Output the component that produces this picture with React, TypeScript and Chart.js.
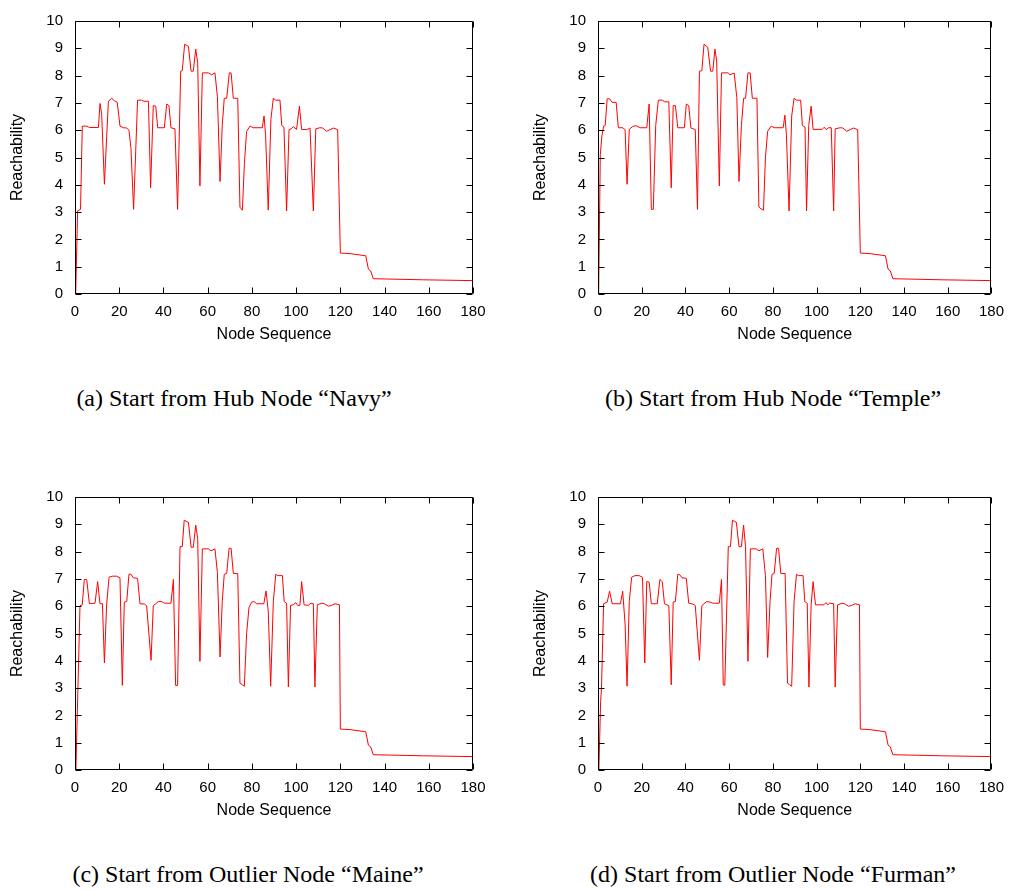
import React, { useEffect, useRef } from "react";
import { Chart, registerables } from "chart.js";
Chart.register(...registerables);

const xTickValues = [0, 20, 40, 60, 80, 100, 120, 140, 160, 180];
const yTickValues = [0, 1, 2, 3, 4, 5, 6, 7, 8, 9, 10];

// shared tail (after node ~120)
const tailX = [120, 124.4, 131.5, 132.7, 133.7, 134.9, 157.5, 180];
const tailY = [1.5, 1.48, 1.4, 0.91, 0.85, 0.56, 0.52, 0.49];

const navyX = [0.3, 1.2, 2.5, 3.3, 5.3, 6.5, 10.6, 11.3, 12.06, 13.3, 15.1, 16.6, 17.8, 19.1, 20.35, 21.9, 23.4, 24.4, 25.3, 26.5, 28.3, 30.1, 31.2, 33.2, 34.2, 35.4, 36.5, 37.4, 40.4, 41.5, 42.5, 43.4, 45.2, 46.4, 47.8, 48.5, 49.6, 51.3, 52.5, 53.5, 54.6, 55.5, 56.5, 57.6, 60.3, 61.8, 63.3, 64.4, 65.6, 66.6, 67.5, 68.6, 69.8, 70.6, 71.6, 73.6, 74.6, 75.7, 76.6, 77.6, 79.2, 80.6, 84.7, 85.5, 86.2, 87.4, 88.6, 89.7, 90.8, 92.7, 93.5, 94.5, 95.7, 96.8, 97.7, 98.7, 100.2, 101.5, 102.5, 104.8, 106.3, 107.8, 108.9, 110.8, 112, 113.8, 115.3, 116.8, 118.8];
const navyY = [0, 3.05, 3.1, 6.15, 6.15, 6.1, 6.1, 6.98, 6.6, 4.02, 7.06, 7.17, 7.08, 7.02, 6.15, 6.09, 6.08, 6.0, 5.34, 3.1, 7.1, 7.1, 7.06, 7.06, 3.89, 6.9, 6.88, 6.09, 6.09, 6.96, 6.9, 6.09, 6.05, 3.1, 8.16, 8.18, 9.15, 9.07, 8.16, 8.16, 8.97, 8.47, 3.96, 8.1, 8.1, 8.03, 8.1, 7.23, 4.12, 6.17, 7.17, 7.17, 8.1, 8.1, 7.17, 7.17, 3.18, 3.07, 4.75, 5.96, 6.15, 6.09, 6.09, 6.52, 5.82, 3.07, 6.4, 7.17, 7.1, 7.1, 6.17, 6.11, 3.04, 6.02, 6.05, 6.13, 6.03, 6.88, 6.03, 6.02, 6.08, 3.04, 6.05, 6.09, 6.08, 5.96, 6.02, 6.08, 6.02];

const templeX = [0.3, 1.05, 1.8, 2.56, 3.3, 4.2, 5.3, 6.5, 8.3, 9.3, 11.3, 12.4, 13.3, 14.3, 15.8, 17.3, 19.3, 22.3, 23.4, 24.4, 25.3, 26.4, 27.6, 29.4, 30.5, 32.4, 33.5, 34.4, 35.4, 36.5, 39.5, 40.4, 41.5, 42.5, 44.5, 45.5, 46.4, 47.5, 48.5, 50.2, 51.5, 52.5, 53.5, 54.3, 55.5, 56.5, 59.6, 60.3, 62.3, 63.5, 64.5, 65.6, 66.6, 67.5, 68.6, 69.6, 70.6, 72.7, 73.6, 74.6, 75.7, 76.6, 77.6, 79.2, 80.6, 84.7, 85.5, 86.2, 87.4, 88.6, 89.7, 90.8, 92.7, 93.5, 94.7, 95.4, 96.4, 97.5, 98.4, 100.2, 102.5, 103.5, 104.4, 105.5, 106.7, 107.8, 108.5, 110.8, 112, 113.8, 115.3, 116.8, 118.8];
const templeY = [0, 5.1, 5.8, 6.15, 6.17, 7.15, 7.15, 7.02, 7.02, 6.09, 6.09, 6.02, 4.02, 6.03, 6.13, 6.17, 6.09, 6.09, 6.96, 3.1, 3.1, 6.17, 7.1, 7.1, 7.04, 7.04, 3.89, 6.9, 6.9, 6.09, 6.09, 6.96, 6.9, 6.08, 6.02, 3.1, 8.16, 8.18, 9.15, 9.04, 8.16, 8.16, 8.97, 8.53, 3.96, 8.1, 8.1, 8.03, 8.09, 7.2, 4.12, 6.17, 7.17, 7.17, 8.1, 8.1, 7.17, 7.17, 3.18, 3.12, 3.07, 4.99, 5.96, 6.15, 6.09, 6.09, 6.55, 5.82, 3.04, 6.52, 7.17, 7.1, 7.1, 6.17, 6.11, 3.04, 6.17, 6.88, 6.03, 6.03, 6.03, 6.11, 6.02, 6.09, 6.09, 3.04, 6.05, 6.09, 6.08, 5.96, 6.02, 6.08, 6.02];

const maineX = [0.4, 2.26, 3.3, 4.2, 5.3, 6.5, 9.05, 10.25, 11.3, 12.4, 13.3, 14.3, 15.4, 16.9, 18.8, 20.35, 21.4, 22.3, 23.4, 24.4, 25.3, 26.4, 28.3, 29.4, 31.4, 32.4, 34.4, 35.4, 36.5, 37.7, 39.2, 40.4, 43.4, 44.5, 45.5, 46.4, 47.5, 48.5, 49.4, 51.3, 52.5, 53.5, 54.6, 55.5, 56.5, 57.6, 60.3, 61.5, 63.3, 64.4, 65.6, 66.6, 67.5, 68.6, 69.7, 70.6, 71.6, 73.6, 74.6, 75.7, 76.6, 77.6, 78.7, 79.9, 80.9, 82.2, 85.4, 86.4, 87.4, 88.5, 89.7, 90.8, 91.6, 93.8, 94.6, 95.7, 96.5, 97.5, 98.7, 99.8, 100.7, 101.7, 102.5, 103.6, 105.5, 106.7, 107.8, 108.5, 109.6, 111.6, 112.8, 114.6, 116.1, 117.6, 119.6];
const maineY = [0, 6.02, 6.05, 6.98, 6.98, 6.09, 6.11, 6.9, 6.09, 6.09, 3.92, 6.05, 7.06, 7.1, 7.1, 7.04, 3.1, 6.15, 6.17, 7.17, 7.17, 7.04, 7.02, 6.09, 6.08, 6.02, 4.02, 6.02, 6.09, 6.17, 6.17, 6.11, 6.11, 6.98, 3.1, 3.1, 8.18, 8.18, 9.15, 9.07, 8.16, 8.16, 8.97, 8.47, 3.98, 8.1, 8.1, 8.03, 8.1, 7.23, 4.14, 6.17, 7.17, 7.2, 8.12, 8.12, 7.2, 7.2, 3.18, 3.12, 3.07, 4.99, 5.96, 6.15, 6.17, 6.09, 6.09, 6.56, 5.82, 3.07, 6.17, 7.17, 7.12, 7.12, 6.17, 6.11, 3.04, 6.03, 6.05, 6.13, 6.03, 6.03, 6.9, 6.05, 6.03, 6.11, 6.09, 3.04, 6.05, 6.11, 6.09, 6.0, 6.03, 6.09, 6.05];

const furmanX = [0.4, 1.2, 1.6, 2.56, 4.2, 5.3, 6.5, 10.25, 11.3, 12.4, 13.3, 14.3, 15.4, 16.9, 18.8, 20.35, 21.4, 22.3, 23.4, 24.4, 27.1, 28.3, 29.4, 30.4, 32.4, 33.5, 34.4, 35.4, 36.5, 37.4, 38.4, 40.4, 41.5, 43.4, 44.5, 46.4, 47.5, 48.5, 49.7, 51.3, 52.5, 55.5, 56.5, 57.3, 58.0, 59.6, 60.6, 61.5, 63.3, 64.5, 65.6, 66.6, 67.5, 68.6, 69.7, 72.4, 73.6, 75.4, 76.6, 77.6, 78.7, 79.6, 80.6, 81.7, 82.6, 83.6, 85.6, 86.7, 87.7, 88.6, 89.7, 90.8, 91.6, 93.8, 94.6, 95.7, 96.5, 97.5, 98.4, 99.5, 101.7, 103.3, 104.3, 105.1, 106, 107.8, 108.5, 109.6, 111.6, 112.8, 114.6, 116.1, 117.6, 119.6];
const furmanY = [0, 2.5, 3.0, 6.09, 6.15, 6.55, 6.09, 6.09, 6.55, 5.34, 3.07, 6.17, 7.06, 7.12, 7.12, 7.06, 3.92, 6.9, 6.88, 6.09, 6.09, 6.98, 6.9, 6.09, 6.02, 3.12, 6.15, 6.17, 7.17, 7.15, 7.04, 7.02, 6.11, 6.08, 6.02, 4.02, 6.02, 6.09, 6.17, 6.15, 6.11, 6.11, 6.98, 3.12, 3.1, 8.18, 8.18, 9.15, 9.07, 8.18, 8.18, 8.97, 8.18, 3.98, 8.1, 8.1, 8.03, 8.1, 7.12, 4.12, 6.17, 7.17, 7.2, 8.12, 8.12, 7.2, 7.2, 3.18, 3.12, 3.07, 6.17, 7.17, 7.12, 7.12, 6.17, 6.11, 3.04, 6.05, 6.9, 6.05, 6.05, 6.05, 6.13, 6.05, 6.11, 6.09, 3.04, 6.05, 6.11, 6.09, 6.0, 6.03, 6.09, 6.05];

const captions = [
  "(a) Start from Hub Node \u201cNavy\u201d",
  "(b) Start from Hub Node \u201cTemple\u201d",
  "(c) Start from Outlier Node \u201cMaine\u201d",
  "(d) Start from Outlier Node \u201cFurman\u201d",
];

const SANS = "'Liberation Sans', Arial, Helvetica, sans-serif";

const framePlugin = {
  id: "gnuframe",
  afterDraw(chart: any) {
    const { ctx, chartArea } = chart;
    const xs = chart.scales.x;
    const ys = chart.scales.y;
    const L = Math.round(chartArea.left) + 0.5;
    const R = Math.round(chartArea.right) - 0.5;
    const T = Math.round(chartArea.top) + 0.5;
    const B = Math.round(chartArea.bottom) - 0.5;
    const len = 6;
    ctx.save();
    ctx.strokeStyle = "#000";
    ctx.lineWidth = 1;
    ctx.beginPath();
    ctx.rect(L, T, R - L, B - T);
    xTickValues.forEach((v) => {
      const p = Math.round(xs.getPixelForValue(v)) + 0.5;
      ctx.moveTo(p, B);
      ctx.lineTo(p, B - len);
      ctx.moveTo(p, T);
      ctx.lineTo(p, T + len);
    });
    yTickValues.forEach((v) => {
      const p = Math.round(ys.getPixelForValue(v)) + 0.5;
      ctx.moveTo(L, p);
      ctx.lineTo(L + len, p);
      ctx.moveTo(R, p);
      ctx.lineTo(R - len, p);
    });
    ctx.stroke();
    ctx.restore();
  },
};

function Panel(props: {
  xs: number[];
  ys: number[];
  left: number;
  top: number;
  width: number;
  caption: string;
  captionCenter: number;
}) {
  const ref = useRef<HTMLCanvasElement | null>(null);
  const H = 360;
  useEffect(() => {
    if (!ref.current) return;
    const allX = props.xs.concat(tailX);
    const allY = props.ys.concat(tailY);
    const data = allX.map((x, i) => ({ x, y: allY[i] }));
    const chart = new Chart(ref.current, {
      type: "line",
      data: {
        datasets: [
          {
            data,
            borderColor: "#ff0000",
            borderWidth: 1,
            pointRadius: 0,
            tension: 0,
            fill: false,
          },
        ],
      },
      options: {
        animation: false,
        responsive: false,
        events: [],
        layout: { padding: { left: 0, top: 12, right: props.width - 473, bottom: 0 } },
        plugins: { legend: { display: false }, tooltip: { enabled: false } },
        scales: {
          x: {
            type: "linear",
            min: 0,
            max: 180,
            afterBuildTicks: (s: any) => {
              s.ticks = xTickValues.map((v) => ({ value: v }));
            },
            afterFit: (s: any) => {
              s.height = H - 294;
            },
            grid: { display: false, drawTicks: false },
            border: { display: false },
            ticks: {
              padding: 9,
              color: "#000",
              maxRotation: 0,
              autoSkip: false,
              font: { family: SANS, size: 15 },
            },
            title: {
              display: true,
              text: "Node Sequence",
              color: "#000",
              font: { family: SANS, size: 16 },
              padding: { top: 0, bottom: 16 },
            },
          },
          y: {
            type: "linear",
            min: 0,
            max: 10,
            afterBuildTicks: (s: any) => {
              s.ticks = yTickValues.map((v) => ({ value: v }));
            },
            afterFit: (s: any) => {
              s.width = 75;
            },
            grid: { display: false, drawTicks: false },
            border: { display: false },
            ticks: {
              padding: 12,
              color: "#000",
              autoSkip: false,
              font: { family: SANS, size: 15 },
            },
            title: {
              display: true,
              text: "Reachability",
              color: "#000",
              font: { family: SANS, size: 16 },
              padding: { top: 8, bottom: 0 },
            },
          },
        },
      },
      plugins: [framePlugin],
    } as any);
    return () => chart.destroy();
  }, []);
  return (
    <>
      <canvas
        ref={ref}
        width={props.width}
        height={H}
        style={{ position: "absolute", left: props.left, top: props.top, width: props.width, height: H }}
      />
      <div
        style={{
          position: "absolute",
          left: props.captionCenter - 300,
          width: 600,
          top: props.top + 398 - 15,
          height: 30,
          lineHeight: "30px",
          textAlign: "center",
          fontFamily: "'Liberation Serif', 'Times New Roman', serif",
          fontSize: 24,
          color: "#000",
          whiteSpace: "nowrap",
        }}
      >
        {props.caption}
      </div>
    </>
  );
}

export default function App() {
  return (
    <div
      style={{
        position: "absolute",
        left: 0,
        top: 0,
        width: 1013,
        height: 890,
        overflow: "hidden",
        background: "#fff",
      }}
    >
      <Panel xs={navyX} ys={navyY} left={0} top={0} width={500} caption={captions[0]} captionCenter={234} />
      <Panel xs={templeX} ys={templeY} left={523} top={0} width={490} caption={captions[1]} captionCenter={773} />
      <Panel xs={maineX} ys={maineY} left={0} top={476} width={500} caption={captions[2]} captionCenter={248} />
      <Panel xs={furmanX} ys={furmanY} left={523} top={476} width={490} caption={captions[3]} captionCenter={773} />
    </div>
  );
}
